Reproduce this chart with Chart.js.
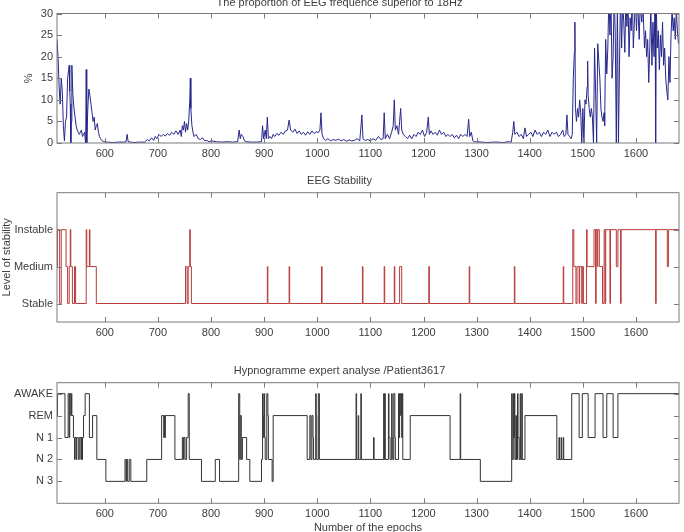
<!DOCTYPE html>
<html lang="en">
	<head>
		<meta charset="UTF-8" />
		<title>EEG / hypnogram</title>
		<script src="https://cdn.jsdelivr.net/npm/chart.js@4.4.1/dist/chart.umd.min.js"></script>
		<style>
			body { margin: 0; background: #fff; overflow: hidden; }
			canvas { position: absolute; left: 0; }
		</style>
	</head>
	<body>
		<canvas id="eegChart" width="684" height="172" style="top: -7px"></canvas>
		<canvas id="stabChart" width="684" height="175" style="top: 165px"></canvas>
		<canvas id="hypChart" width="684" height="195" style="top: 340px"></canvas>
	</body>
	<script>
		var xMin = 510;
		var xMax = 1681;
		var xTickValues = [600, 700, 800, 900, 1000, 1100, 1200, 1300, 1400, 1500, 1600];

		// proportion of EEG > 18Hz
		var eegEpoch = [510, 512, 514, 516, 518, 520, 522, 524, 526, 528, 530, 532, 533, 534, 535, 536, 537, 538, 540, 542, 544, 546, 548, 550, 552, 554, 556, 558, 560, 562, 563, 564, 565, 566, 568, 570, 572, 574, 576, 578, 580, 582, 584, 586, 588, 590, 592, 595, 598, 605, 615, 625, 635, 640, 642, 644, 655, 665, 675, 680, 684, 688, 692, 695, 698, 702, 706, 710, 714, 718, 722, 726, 730, 734, 738, 742, 744, 746, 748, 750, 752, 754, 756, 758, 760, 761, 762, 764, 766, 768, 772, 776, 780, 784, 788, 792, 796, 800, 810, 820, 830, 840, 850, 853, 855, 857, 860, 863, 866, 875, 885, 895, 897, 899, 902, 904, 906, 908, 911, 914, 917, 920, 924, 928, 932, 936, 940, 944, 947, 950, 954, 958, 962, 966, 970, 974, 978, 982, 986, 990, 994, 998, 1002, 1005, 1007, 1009, 1012, 1016, 1020, 1025, 1030, 1035, 1040, 1045, 1050, 1055, 1060, 1065, 1070, 1075, 1080, 1084, 1086, 1090, 1095, 1100, 1105, 1110, 1115, 1120, 1124, 1126, 1128, 1132, 1136, 1140, 1143, 1145, 1147, 1150, 1153, 1155, 1157, 1159, 1162, 1166, 1170, 1174, 1178, 1182, 1186, 1190, 1194, 1198, 1202, 1206, 1209, 1211, 1214, 1218, 1222, 1226, 1230, 1234, 1238, 1242, 1246, 1250, 1254, 1258, 1262, 1266, 1270, 1274, 1278, 1282, 1285, 1287, 1290, 1293, 1296, 1300, 1310, 1320, 1330, 1340, 1350, 1360, 1365, 1368, 1370, 1372, 1376, 1380, 1384, 1388, 1391, 1394, 1398, 1402, 1406, 1410, 1414, 1418, 1422, 1426, 1430, 1434, 1438, 1442, 1446, 1450, 1454, 1458, 1462, 1465, 1468, 1470, 1472, 1475, 1478, 1480, 1482, 1484, 1485, 1486, 1488, 1490, 1492, 1494, 1496, 1498, 1500, 1502, 1504, 1506, 1508, 1509, 1510, 1512, 1514, 1516, 1518, 1520, 1522, 1524, 1526, 1528, 1530, 1532, 1534, 1536, 1538, 1540, 1541, 1543, 1545, 1547, 1549, 1551, 1553, 1555, 1557, 1559, 1561, 1563, 1565, 1567, 1569, 1571, 1573, 1575, 1577, 1579, 1581, 1583, 1585, 1587, 1589, 1591, 1593, 1595, 1597, 1599, 1601, 1603, 1606, 1608, 1611, 1613, 1616, 1618, 1620, 1622, 1624, 1626, 1628, 1630, 1632, 1634, 1636, 1637, 1638, 1640, 1642, 1644, 1646, 1648, 1650, 1652, 1654, 1656, 1658, 1660, 1662, 1664, 1666, 1668, 1670, 1672, 1674, 1676, 1678, 1680];
		var eegPct = [24, 20, 13, 9, 15, 12, 4, 0.5, 5, 6, 15, 17, 18, 12, 9, 0, 5, 18, 11, 8, 6, 4, 3, 2.5, 2, 2.5, 3, 1.5, 2, 2.5, 1, 0, 17, 0, 8, 12.5, 11, 9, 7, 5, 6, 3, 4, 4.5, 2.5, 1.5, 1, 0.5, 0.3, 0.2, 0.1, 0.2, 0.2, 0.3, 2, 0.3, 0.1, 0.2, 0.2, 0.8, 0.5, 1.2, 0.6, 1.5, 1, 2, 1.5, 2, 1.6, 2.2, 1.8, 2.5, 2, 2.8, 2, 3, 1.5, 4, 3, 5, 2.5, 4.5, 3, 5, 10, 15, 8, 4, 2.5, 1.5, 2, 1, 0.8, 1.2, 0.5, 0.6, 0.3, 0.5, 0.3, 0.2, 0.3, 0.2, 0.3, 3, 1, 2, 1.5, 0.5, 0.3, 0.2, 0.2, 0.3, 4, 1, 3, 1, 6, 1, 1.5, 1, 2, 1.5, 2.2, 1.8, 2.5, 2, 2.8, 3, 5.3, 3, 2.5, 3.2, 2.2, 2.8, 2, 2.5, 1.8, 2.6, 2, 2.8, 2.2, 2.6, 2.4, 3, 7, 2, 1, 0.6, 1, 0.5, 0.8, 0.6, 0.9, 0.5, 0.8, 0.4, 0.7, 0.5, 0.6, 1, 0.5, 6.5, 1, 0.6, 0.8, 0.5, 1, 0.6, 1.5, 0.8, 1, 7, 1, 2, 1, 2.5, 4, 10, 3, 4, 2, 5, 8, 3, 2, 1.5, 1, 1.8, 1, 2, 1.5, 2.5, 2, 3, 1.5, 2.5, 6, 2, 2.8, 2, 2.5, 1.8, 3, 2, 2.5, 1.5, 2, 1.5, 2, 1.2, 1.8, 1, 2, 1.5, 2, 1.5, 5.5, 1.5, 2.5, 0.5, 0.3, 0.3, 0.2, 0.1, 0.2, 0.2, 0.1, 0.3, 0.2, 2.5, 5, 2, 2.5, 1.5, 2, 1, 3.5, 1.5, 2, 2.5, 1.5, 3, 2, 2.5, 1.5, 2.5, 2, 3, 1.5, 2.5, 2, 2.5, 1.5, 2, 3, 1.5, 2, 6.5, 2, 1.5, 1, 2, 15, 21, 28, 8, 5, 8, 6, 10, 7, 0, 8, 0, 10, 9, 13, 19, 11, 8, 6, 8, 6, 0, 22, 12, 0, 23, 19, 15, 8, 6, 5, 7, 4, 24, 16, 22, 34, 25, 33, 15, 20, 35, 25, 0, 34, 0, 18, 36, 22, 33, 28, 21, 34, 27, 33, 20, 29, 26, 35, 22, 28, 33, 26, 34, 24, 32, 28, 33, 22, 26, 20, 24, 14, 22, 32, 18, 28, 20, 34, 0, 33, 22, 26, 17, 25, 20, 28, 18, 22, 15, 12, 10, 20, 14, 25, 31, 26, 29, 24, 31, 26, 23];
		var pctTicks = [0, 5, 10, 15, 20, 25, 30];

		// EEG stability: epoch where a run starts and its level (1 stable, 2 medium, 3 instable)
		var stabStart = [510, 511, 515, 518, 527, 530, 533, 535, 536, 539, 543, 545, 565, 566, 571, 572, 584, 752, 755, 757, 760, 761, 763, 906, 907, 947, 948, 1008, 1009, 1085, 1086, 1126, 1127, 1145, 1146, 1155, 1159, 1210, 1211, 1286, 1287, 1371, 1372, 1463, 1464, 1481, 1483, 1487, 1489, 1493, 1494, 1498, 1499, 1501, 1507, 1508, 1521, 1524, 1525, 1527, 1528, 1531, 1537, 1540, 1542, 1543, 1551, 1552, 1563, 1566, 1571, 1572, 1637, 1638, 1659, 1661];
		var stabLevel = [2, 3, 1, 3, 2, 1, 2, 3, 2, 1, 2, 1, 3, 2, 3, 2, 1, 2, 1, 2, 3, 2, 1, 2, 1, 2, 1, 2, 1, 2, 1, 2, 1, 2, 1, 2, 1, 2, 1, 2, 1, 2, 1, 2, 1, 3, 2, 1, 2, 1, 2, 1, 2, 1, 3, 2, 3, 1, 3, 2, 3, 2, 1, 3, 1, 3, 1, 3, 2, 3, 1, 3, 1, 3, 2, 3];
		var stabNames = ["Stable", "Medium", "Instable"];

		// hypnogram: epoch where a stage starts (1 N3, 2 N2, 3 N1, 4 REM, 5 AWAKE)
		var hypStart = [510, 511, 525, 531, 533, 534, 536, 537, 538, 541, 543, 544, 546, 547, 550, 552, 555, 556, 557, 558, 560, 563, 571, 577, 585, 602, 638, 640, 641, 643, 646, 649, 679, 707, 711, 712, 713, 714, 732, 746, 748, 749, 751, 754, 757, 759, 782, 808, 816, 852, 854, 855, 857, 859, 867, 873, 895, 897, 898, 899, 900, 901, 902, 905, 907, 908, 915, 917, 981, 986, 988, 990, 992, 993, 997, 998, 999, 1002, 1004, 1073, 1074, 1077, 1078, 1082, 1083, 1106, 1107, 1125, 1126, 1127, 1128, 1134, 1135, 1137, 1140, 1141, 1142, 1144, 1146, 1147, 1153, 1154, 1155, 1157, 1158, 1159, 1160, 1161, 1175, 1250, 1269, 1270, 1307, 1366, 1367, 1369, 1370, 1371, 1372, 1374, 1375, 1377, 1378, 1380, 1382, 1383, 1385, 1386, 1391, 1451, 1455, 1456, 1459, 1460, 1463, 1464, 1479, 1493, 1499, 1510, 1523, 1538, 1545, 1557, 1566];
		var hypStage = [4, 5, 3, 5, 3, 5, 4, 5, 4, 3, 2, 3, 2, 3, 2, 3, 2, 3, 2, 3, 4, 5, 3, 4, 2, 1, 2, 1, 2, 1, 2, 1, 2, 4, 3, 4, 3, 4, 2, 3, 2, 3, 2, 3, 5, 2, 1, 2, 1, 5, 2, 4, 2, 3, 2, 1, 2, 5, 4, 3, 5, 3, 2, 5, 4, 2, 1, 4, 2, 4, 2, 4, 3, 2, 5, 4, 2, 5, 2, 5, 2, 4, 2, 5, 2, 3, 2, 5, 2, 5, 2, 5, 3, 2, 5, 3, 2, 5, 3, 2, 5, 3, 5, 4, 5, 3, 5, 2, 4, 2, 5, 2, 1, 5, 2, 5, 3, 5, 2, 4, 2, 5, 3, 2, 5, 2, 5, 2, 4, 2, 3, 2, 3, 2, 3, 2, 5, 3, 5, 3, 5, 3, 5, 3, 5];
		var hypNames = ["N 3", "N 2", "N 1", "REM", "AWAKE"];

		Chart.defaults.font.family = "'Liberation Sans', Arial, sans-serif";
		Chart.defaults.font.size = 11;
		Chart.defaults.color = "#3c3c3c";

		function runsToPoints(starts, levels) {
			var pts = starts.map(function (s, i) {
				return { x: s, y: levels[i] };
			});
			pts.push({ x: xMax, y: levels[levels.length - 1] });
			return pts;
		}

		// matlab style box with inward ticks on the four sides
		var boxTicks = {
			id: "boxTicks",
			afterDraw: function (chart) {
				var ctx = chart.ctx;
				var a = chart.chartArea;
				var x = chart.scales.x;
				var y = chart.scales.y;
				ctx.save();
				ctx.strokeStyle = "#7a7a7a";
				ctx.lineWidth = 1;
				ctx.strokeRect(a.left, a.top, a.right - a.left, a.bottom - a.top);
				ctx.beginPath();
				x.ticks.forEach(function (t) {
					var px = Math.round(x.getPixelForValue(t.value)) + 0.5;
					ctx.moveTo(px, a.bottom);
					ctx.lineTo(px, a.bottom - 5);
					ctx.moveTo(px, a.top);
					ctx.lineTo(px, a.top + 5);
				});
				y.ticks.forEach(function (t) {
					var py = Math.round(y.getPixelForValue(t.value)) + 0.5;
					ctx.moveTo(a.left, py);
					ctx.lineTo(a.left + 5, py);
					ctx.moveTo(a.right, py);
					ctx.lineTo(a.right - 5, py);
				});
				ctx.stroke();
				ctx.restore();
			},
		};

		function makeChart(id, cfg) {
			return new Chart(document.getElementById(id), {
				type: "line",
				data: {
					datasets: [
						{
							data: cfg.points,
							borderColor: cfg.color,
							borderWidth: 1,
							pointRadius: 0,
							stepped: cfg.stepped,
							tension: 0,
						},
					],
				},
				options: {
					responsive: false,
					animation: false,
					events: [],
					layout: { padding: { left: 0, right: 5, top: 0, bottom: 0 } },
					plugins: {
						legend: { display: false },
						tooltip: { enabled: false },
						title: {
							display: true,
							text: cfg.title,
							color: "#3c3c3c",
							font: { size: 11, weight: "normal" },
							padding: cfg.titlePad,
						},
					},
					scales: {
						x: {
							type: "linear",
							min: xMin,
							max: xMax,
							grid: { display: false, drawTicks: false },
							border: { display: false },
							afterBuildTicks: function (s) {
								s.ticks = xTickValues.map(function (v) {
									return { value: v };
								});
							},
							afterFit: function (s) {
								s.height = cfg.xHeight;
							},
							ticks: {
								padding: 4,
								maxRotation: 0,
								callback: function (v) {
									return String(v);
								},
							},
							title: cfg.xTitle
								? { display: true, text: cfg.xTitle, padding: { top: 0, bottom: 0 } }
								: { display: false },
						},
						y: {
							min: cfg.yMin,
							max: cfg.yMax,
							grid: { display: false, drawTicks: false },
							border: { display: false },
							afterBuildTicks: function (s) {
								s.ticks = cfg.yTicks.map(function (v) {
									return { value: v };
								});
							},
							afterFit: function (s) {
								s.width = 57;
							},
							ticks: {
								padding: 4,
								callback: cfg.yLabel,
							},
							title: { display: true, text: cfg.yTitle, padding: { top: cfg.yTitlePad, bottom: 0 } },
						},
					},
				},
				plugins: [boxTicks],
			});
		}

		makeChart("eegChart", {
			points: eegEpoch.map(function (e, i) {
				return { x: e, y: eegPct[i] };
			}),
			color: "#27278c",
			stepped: false,
			title: "The proportion of EEG frequence superior to 18Hz",
			titlePad: { top: 3, bottom: 4.3 },
			xHeight: 22,
			yMin: 0,
			yMax: 30,
			yTicks: pctTicks,
			yLabel: function (v) {
				return v;
			},
			yTitle: "%",
			yTitlePad: 22,
		});

		makeChart("stabChart", {
			points: runsToPoints(stabStart, stabLevel),
			color: "#b83a3a",
			stepped: true,
			title: "EEG Stability",
			titlePad: { top: 9.4, bottom: 5.1 },
			xHeight: 18,
			yMin: 0.5,
			yMax: 4,
			yTicks: [1, 2, 3],
			yLabel: function (v) {
				return stabNames[v - 1];
			},
			yTitle: "Level of stability",
			yTitlePad: 0,
		});

		makeChart("hypChart", {
			points: runsToPoints(hypStart, hypStage),
			color: "#333333",
			stepped: true,
			title: "Hypnogramme expert analyse /Patient3617",
			titlePad: { top: 24.4, bottom: 5.1 },
			xHeight: 31.7,
			xTitle: "Number of the epochs",
			yMin: 0,
			yMax: 5.5,
			yTicks: [1, 2, 3, 4, 5],
			yLabel: function (v) {
				return hypNames[v - 1];
			},
			yTitle: "",
			yTitlePad: 0,
		});
	</script>
</html>
